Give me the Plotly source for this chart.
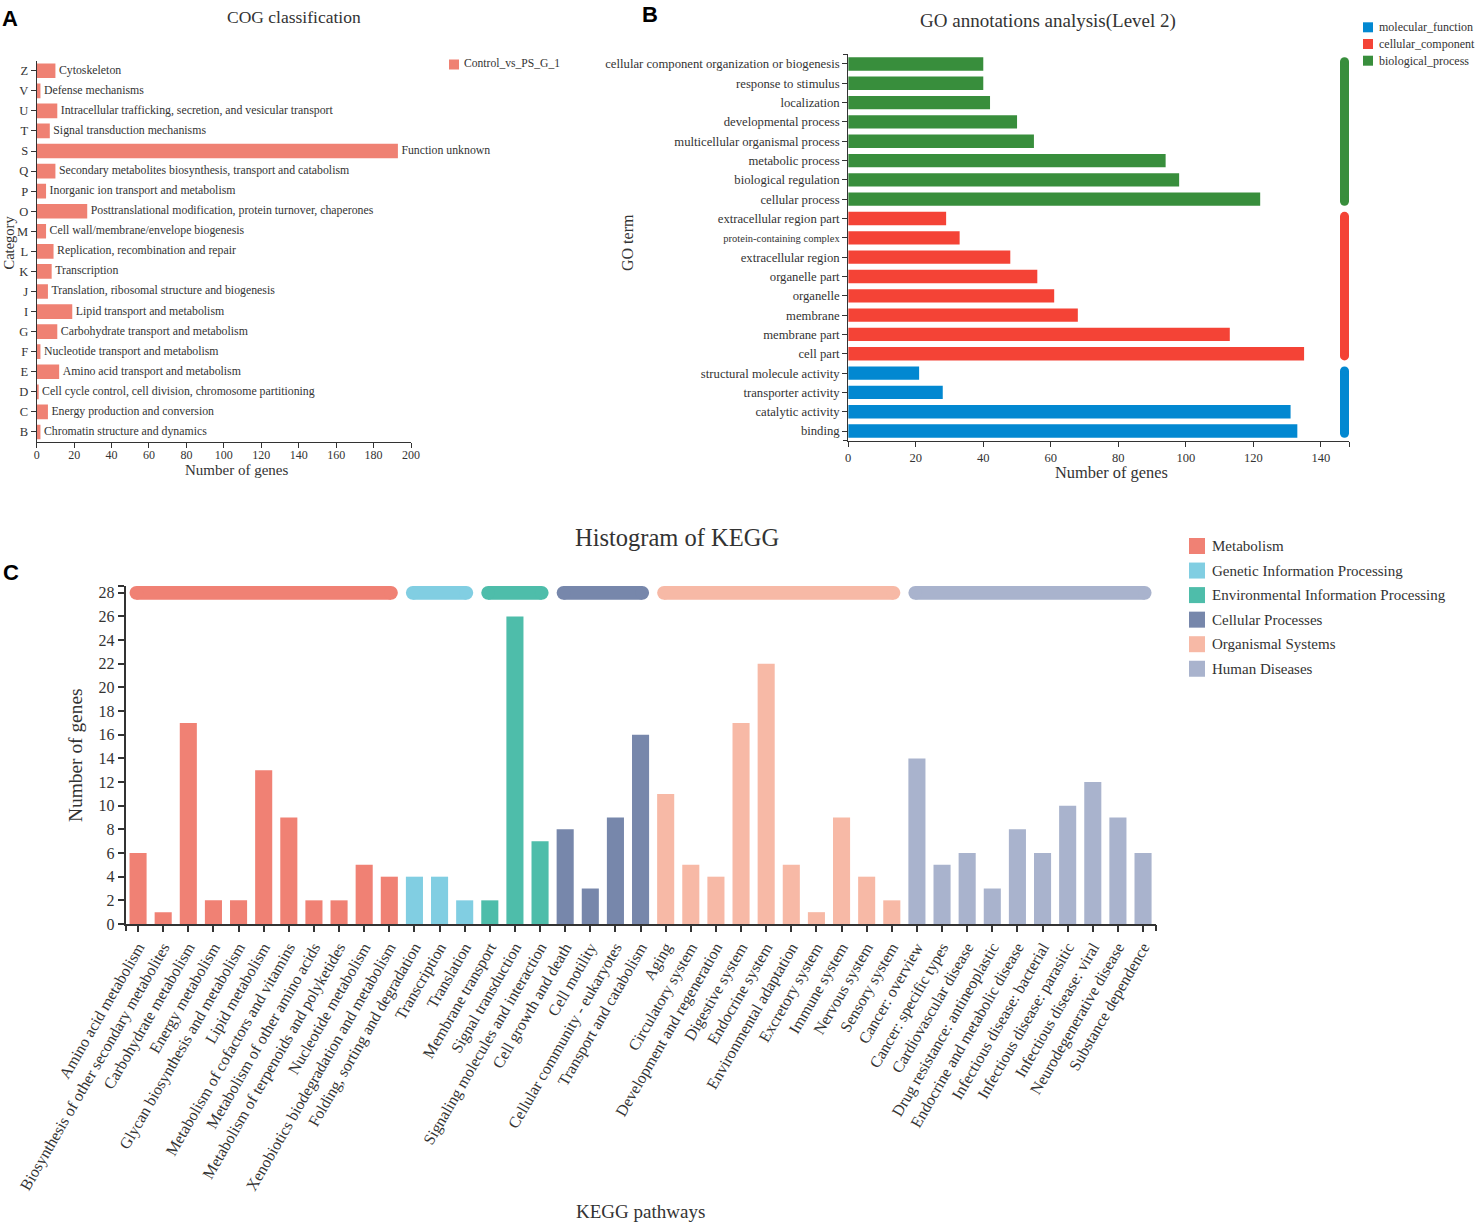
import plotly.graph_objects as go

W, H = 1477, 1222
SERIF = "Liberation Serif, Times New Roman, serif"
SANS = "Liberation Sans, Arial, sans-serif"
INK = "#333333"


def fx(px):
    return px / W


def fy(py):
    return 1 - py / H


# ---------------- Panel A : COG (bottom -> top) ----------------
cog_codes = ["B", "C", "D", "E", "F", "G", "I", "J", "K", "L",
             "M", "O", "P", "Q", "S", "T", "U", "V", "Z"]
cog_desc = [
    "Chromatin structure and dynamics",
    "Energy production and conversion",
    "Cell cycle control, cell division, chromosome partitioning",
    "Amino acid transport and metabolism",
    "Nucleotide transport and metabolism",
    "Carbohydrate transport and metabolism",
    "Lipid transport and metabolism",
    "Translation, ribosomal structure and biogenesis",
    "Transcription",
    "Replication, recombination and repair",
    "Cell wall/membrane/envelope biogenesis",
    "Posttranslational modification, protein turnover, chaperones",
    "Inorganic ion transport and metabolism",
    "Secondary metabolites biosynthesis, transport and catabolism",
    "Function unknown",
    "Signal transduction mechanisms",
    "Intracellular trafficking, secretion, and vesicular transport",
    "Defense mechanisms",
    "Cytoskeleton",
]
cog_counts = [2, 6, 1, 12, 2, 11, 19, 6, 8, 9, 5, 27, 5, 10, 193, 7, 11, 2, 10]
cog_series = "Control_vs_PS_G_1"
cog_color = "#EF8173"
cog_xticks = list(range(0, 201, 20))

# ---------------- Panel B : GO level 2 (bottom -> top) ----------------
go_terms = [
    "binding", "catalytic activity", "transporter activity",
    "structural molecule activity",
    "cell part", "membrane part", "membrane", "organelle", "organelle part",
    "extracellular region", "protein-containing complex",
    "extracellular region part",
    "cellular process", "biological regulation", "metabolic process",
    "multicellular organismal process", "developmental process",
    "localization", "response to stimulus",
    "cellular component organization or biogenesis",
]
go_counts = [133, 131, 28, 21, 135, 113, 68, 61, 56, 48, 33, 29,
             122, 98, 94, 55, 50, 42, 40, 40]
go_class = (["molecular_function"] * 4 + ["cellular_component"] * 8
            + ["biological_process"] * 8)
go_classes = ["molecular_function", "cellular_component", "biological_process"]
go_colors = {"molecular_function": "#0288D1",
             "cellular_component": "#F44336",
             "biological_process": "#388E3C"}
go_small_terms = ["protein-containing complex"]
go_xmax = 148.3
go_xticks = list(range(0, 141, 20))

# ---------------- Panel C : KEGG ----------------
kegg_pathways = [
    "Amino acid metabolism", "Biosynthesis of other secondary metabolites",
    "Carbohydrate metabolism", "Energy metabolism",
    "Glycan biosynthesis and metabolism", "Lipid metabolism",
    "Metabolism of cofactors and vitamins", "Metabolism of other amino acids",
    "Metabolism of terpenoids and polyketides", "Nucleotide metabolism",
    "Xenobiotics biodegradation and metabolism",
    "Folding, sorting and degradation", "Transcription", "Translation",
    "Membrane transport", "Signal transduction",
    "Signaling molecules and interaction",
    "Cell growth and death", "Cell motility",
    "Cellular community - eukaryotes", "Transport and catabolism",
    "Aging", "Circulatory system", "Development and regeneration",
    "Digestive system", "Endocrine system", "Environmental adaptation",
    "Excretory system", "Immune system", "Nervous system", "Sensory system",
    "Cancer: overview", "Cancer: specific types", "Cardiovascular disease",
    "Drug resistance: antineoplastic", "Endocrine and metabolic disease",
    "Infectious disease: bacterial", "Infectious disease: parasitic",
    "Infectious disease: viral", "Neurodegenerative disease",
    "Substance dependence",
]
kegg_counts = [6, 1, 17, 2, 2, 13, 9, 2, 2, 5, 4,
               4, 4, 2,
               2, 26, 7,
               8, 3, 9, 16,
               11, 5, 4, 17, 22, 5, 1, 9, 4, 2,
               14, 5, 6, 3, 8, 6, 10, 12, 9, 6]
kegg_classes = ["Metabolism", "Genetic Information Processing",
                "Environmental Information Processing", "Cellular Processes",
                "Organismal Systems", "Human Diseases"]
kegg_class_sizes = [11, 3, 3, 4, 10, 10]
kegg_class = [c for c, n in zip(kegg_classes, kegg_class_sizes) for _ in range(n)]
kegg_colors = {"Metabolism": "#F08174",
               "Genetic Information Processing": "#81CEE2",
               "Environmental Information Processing": "#4EBDAA",
               "Cellular Processes": "#7787AB",
               "Organismal Systems": "#F7B9A6",
               "Human Diseases": "#A9B3CD"}
kegg_pill_level = 28
kegg_ymax = 28.6
kegg_yticks = list(range(0, 29, 2))

# ---------------- layout geometry (pixels in the 1477x1222 page) ----------------
COG_X = (36.7, 411)
COG_Y = (60.7, 442)
GO_X = (848.2, 1349)
GO_Y = (54.3, 440.7)
GO_PILL_X = (1340, 1349)
KEGG_X = (125.5, 1155.6)
KEGG_Y = (585.7, 924)

COG_W, GO_W, KEGG_W = 0.73, 0.69, 0.68
GO_PILL_PX = 9.0
KEGG_PILL_PX = 13.7
GO_UNIT_PX = (GO_Y[1] - GO_Y[0]) / len(go_terms)
KEGG_UNIT_PX = (KEGG_X[1] - KEGG_X[0]) / len(kegg_pathways)

fig = go.Figure()

# ---- COG bars and description labels ----
fig.add_trace(go.Bar(
    x=cog_counts, y=cog_codes, orientation="h", width=COG_W,
    marker=dict(color=cog_color, line=dict(width=0)),
    name=cog_series, showlegend=False, xaxis="x", yaxis="y"))
fig.add_trace(go.Scatter(
    x=cog_counts, y=cog_codes, mode="markers+text", text=cog_desc,
    marker=dict(size=4, opacity=0),
    textposition="middle right",
    textfont=dict(family=SERIF, size=11.8, color=INK),
    cliponaxis=False, showlegend=False, hoverinfo="skip",
    xaxis="x", yaxis="y"))

# ---- GO bars ----
for cls in go_classes:
    xs = [c for c, k in zip(go_counts, go_class) if k == cls]
    ys = [t for t, k in zip(go_terms, go_class) if k == cls]
    fig.add_trace(go.Bar(
        x=xs, y=ys, orientation="h", width=GO_W,
        marker=dict(color=go_colors[cls], line=dict(width=0)),
        name=cls, showlegend=False, xaxis="x2", yaxis="y2"))

# ---- GO class pills (vertical rounded lines) ----
r_go = GO_PILL_PX / 2 / GO_UNIT_PX
for cls in go_classes:
    idx = [i for i, k in enumerate(go_class) if k == cls]
    lo, hi = min(idx) - GO_W / 2, max(idx) + GO_W / 2
    fig.add_trace(go.Scatter(
        x=[0, 0], y=[lo + r_go, hi - r_go], mode="lines+markers",
        line=dict(color=go_colors[cls], width=GO_PILL_PX),
        marker=dict(color=go_colors[cls], size=GO_PILL_PX, line=dict(width=0)),
        cliponaxis=False, showlegend=False, hoverinfo="skip",
        xaxis="x5", yaxis="y5"))

# ---- KEGG bars ----
for cls in kegg_classes:
    xs = [p for p, k in zip(kegg_pathways, kegg_class) if k == cls]
    ys = [v for v, k in zip(kegg_counts, kegg_class) if k == cls]
    fig.add_trace(go.Bar(
        x=xs, y=ys, width=KEGG_W,
        marker=dict(color=kegg_colors[cls], line=dict(width=0)),
        name=cls, showlegend=False, xaxis="x3", yaxis="y3"))

# ---- KEGG class pills (horizontal rounded lines) ----
r_kegg = KEGG_PILL_PX / 2 / KEGG_UNIT_PX
for cls in kegg_classes:
    idx = [i for i, k in enumerate(kegg_class) if k == cls]
    lo, hi = min(idx) - KEGG_W / 2, max(idx) + KEGG_W / 2
    fig.add_trace(go.Scatter(
        x=[lo + r_kegg, hi - r_kegg], y=[kegg_pill_level, kegg_pill_level],
        mode="lines+markers",
        line=dict(color=kegg_colors[cls], width=KEGG_PILL_PX),
        marker=dict(color=kegg_colors[cls], size=KEGG_PILL_PX, line=dict(width=0)),
        cliponaxis=False, showlegend=False, hoverinfo="skip",
        xaxis="x4", yaxis="y3"))


def ax(**kw):
    base = dict(showgrid=False, zeroline=False, showline=True,
                linecolor=INK, linewidth=1, ticks="outside",
                tickcolor=INK, automargin=False, fixedrange=True)
    base.update(kw)
    return base


go_ticktext = [
    f'<span style="font-size:10.5px">{t}</span>' if t in go_small_terms else t
    for t in go_terms
]

fig.update_layout(
    width=W, height=H,
    margin=dict(l=0, r=0, t=0, b=0),
    paper_bgcolor="white", plot_bgcolor="white",
    barmode="overlay",
    showlegend=False,
    font=dict(family=SERIF, color=INK),
    xaxis=ax(domain=[fx(COG_X[0]), fx(COG_X[1])], range=[0, 200],
             tickvals=cog_xticks, ticklen=5, ticklabelstandoff=-3,
             tickfont=dict(family=SERIF, size=12, color=INK), anchor="y"),
    yaxis=ax(domain=[fy(COG_Y[1]), fy(COG_Y[0])], type="category",
             categoryorder="array", categoryarray=cog_codes,
             range=[-0.5, len(cog_codes) - 0.5], ticklen=5,
             tickfont=dict(family=SERIF, size=12.5, color=INK), anchor="x"),
    xaxis2=ax(domain=[fx(GO_X[0]), fx(GO_X[1])], range=[0, go_xmax],
              tickvals=go_xticks + [go_xmax],
              ticktext=[str(v) for v in go_xticks] + [""], ticklen=5,
              tickfont=dict(family=SERIF, size=12.5, color=INK), anchor="y2"),
    yaxis2=ax(domain=[fy(GO_Y[1]), fy(GO_Y[0])], type="category",
              categoryorder="array", categoryarray=go_terms,
              range=[-0.5, len(go_terms) - 0.5], ticklen=5,
              tickvals=go_terms, ticktext=go_ticktext,
              tickfont=dict(family=SERIF, size=12.7, color=INK), anchor="x2"),
    xaxis5=dict(domain=[fx(GO_PILL_X[0]), fx(GO_PILL_X[1])], range=[-0.5, 0.5],
                visible=False, anchor="y5", fixedrange=True),
    yaxis5=dict(domain=[fy(GO_Y[1]), fy(GO_Y[0])],
                range=[-0.5, len(go_terms) - 0.5],
                anchor="free", position=fx(GO_X[0]), showline=False,
                showgrid=False, zeroline=False, ticks="outside", ticklen=5,
                tickcolor=INK, tickvals=[-0.5, len(go_terms) - 0.5],
                showticklabels=False, fixedrange=True),
    xaxis3=ax(domain=[fx(KEGG_X[0]), fx(KEGG_X[1])], type="category",
              categoryorder="array", categoryarray=kegg_pathways,
              range=[-0.5, len(kegg_pathways) - 0.5], ticklen=6,
              tickangle=-60, linewidth=1.5, tickwidth=1.5,
              tickfont=dict(family=SERIF, size=16, color=INK), anchor="y3"),
    xaxis4=dict(overlaying="x3", range=[-0.5, len(kegg_pathways) - 0.5],
                anchor="y3", side="bottom", showline=False, showgrid=False,
                zeroline=False, ticks="outside", ticklen=6, tickcolor=INK,
                tickwidth=1.5,
                tickvals=[-0.5, len(kegg_pathways) - 0.5],
                showticklabels=False, fixedrange=True),
    yaxis3=ax(domain=[fy(KEGG_Y[1]), fy(KEGG_Y[0])], range=[0, kegg_ymax],
              tickvals=kegg_yticks + [kegg_ymax],
              ticktext=[str(v) for v in kegg_yticks] + [""],
              ticklen=6, linewidth=1.5, tickwidth=1.5,
              tickfont=dict(family=SERIF, size=16, color=INK), anchor="x3"),
)

ann = []


def text(t, x, y, size, angle=0, family=SERIF, bold=False, xanchor="center",
         color=INK):
    ann.append(dict(text=f"<b>{t}</b>" if bold else t, x=fx(x), y=fy(y),
                    xref="paper", yref="paper", showarrow=False,
                    xanchor=xanchor, yanchor="middle", textangle=angle,
                    font=dict(family=family, size=size, color=color)))


# titles
text("COG classification", 294, 17, 17.5)
text("GO annotations analysis(Level 2)", 1048, 21, 19)
text("Histogram of KEGG", 677, 537, 24.5)
# panel letters
text("A", 10, 18, 22, family=SANS, bold=True, color="black")
text("B", 650, 14, 22, family=SANS, bold=True, color="black")
text("C", 11, 572, 22, family=SANS, bold=True, color="black")
# axis titles
text("Category", 8.5, 243, 14.5, angle=-90)
text("Number of genes", 236, 470, 15)
text("GO term", 628, 243, 16, angle=-90)
text("Number of genes", 1111, 473, 16.4)
text("Number of genes", 75, 755, 19.4, angle=-90)
text("KEGG pathways", 640, 1211, 19)

shapes = []


def swatch(x0, y0, size, color):
    shapes.append(dict(type="rect", xref="paper", yref="paper",
                       x0=fx(x0), x1=fx(x0 + size), y0=fy(y0 + size), y1=fy(y0),
                       fillcolor=color, line=dict(width=0)))


# COG legend
swatch(449, 59.5, 10, cog_color)
text(cog_series, 461.5, 64, 11.6, xanchor="left")

# GO legend (top -> bottom: molecular, cellular, biological)
for i, cls in enumerate(go_classes):
    yc = 27.3 + i * 16.7
    swatch(1363, yc - 5, 10, go_colors[cls])
    text(cls, 1376.5, yc, 12, xanchor="left")

# KEGG legend
for i, cls in enumerate(kegg_classes):
    yc = 546 + i * 24.55
    swatch(1189, yc - 8, 16, kegg_colors[cls])
    text(cls, 1209.5, yc, 15, xanchor="left")

fig.update_layout(annotations=ann, shapes=shapes)
fig.write_html(
    "out.html",
    config={"displayModeBar": False},
    post_script="document.body.style.margin='0px';"
                "document.body.style.overflow='hidden';")
